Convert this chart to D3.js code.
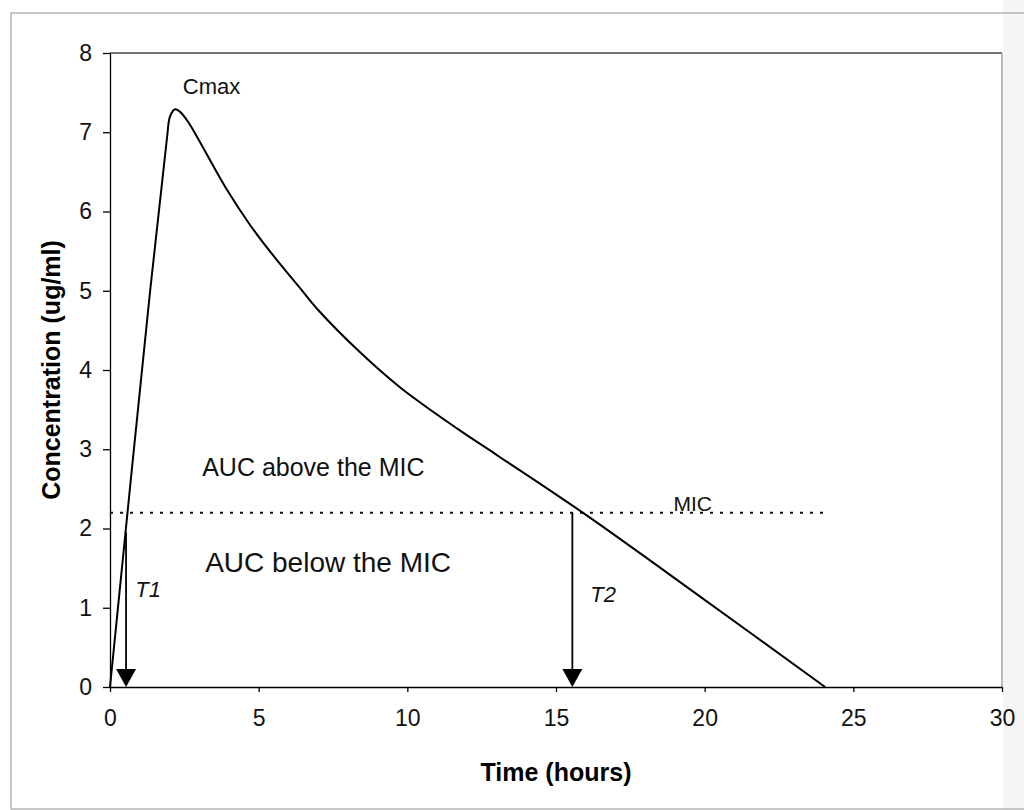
<!DOCTYPE html>
<html>
<head>
<meta charset="utf-8">
<script src="https://cdn.jsdelivr.net/npm/d3@7/dist/d3.min.js"></script>
<style>
  body { margin: 0; background: #fff; }
  svg { display: block; font-family: "Liberation Sans", Arial, sans-serif; }
  .axis path, .axis line { stroke: #000; stroke-width: 1.3; }
  .axis text { fill: #111; }
</style>
</head>
<body>
<div id="chart"></div>
<script>
// concentration-time curve
const timeHours = [0, 1.35, 1.92, 2.02, 2.19, 2.35, 2.63, 2.93, 3.94, 4.71, 5.5, 6.4, 6.97, 8.42, 9.76, 11.68, 13, 15.9, 20, 24.05];
const concentration = [0, 5.0, 6.94, 7.2, 7.29, 7.26, 7.13, 6.94, 6.27, 5.83, 5.44, 5.03, 4.77, 4.22, 3.78, 3.26, 2.93, 2.2, 1.1, 0];
const xTicks = [0, 5, 10, 15, 20, 25, 30];
const yTicks = [0, 1, 2, 3, 4, 5, 6, 7, 8];
const micValue = 2.2;
const micRange = [0, 24.05];
const arrowNames = ["T1", "T2"];
const arrowTimes = [0.54, 15.55];
const arrowTops = [1.95, 2.2];

const W = 1024, H = 810;
const margin = { left: 110, right: 22, top: 53, bottom: 123 };
const width = W - margin.left - margin.right;
const height = H - margin.top - margin.bottom;

const svg = d3.select("#chart").append("svg")
  .attr("width", W)
  .attr("height", H);

// page edge + outer border (scanned figure)
svg.append("rect")
  .attr("x", 1003).attr("y", 0).attr("width", 21).attr("height", H)
  .attr("fill", "#f5f5f5");
svg.append("rect")
  .attr("x", 11).attr("y", 13).attr("width", 1030).attr("height", 796)
  .attr("fill", "none").attr("stroke", "#b5b5b5").attr("stroke-width", 1.5);

const g = svg.append("g")
  .attr("transform", "translate(" + margin.left + "," + margin.top + ")");

const x = d3.scaleLinear().domain([0, 30]).range([0, width]);
const y = d3.scaleLinear().domain([0, 8]).range([height, 0]);

// plot frame top / right
g.append("line")
  .attr("x1", 0).attr("x2", width).attr("y1", 0).attr("y2", 0)
  .attr("stroke", "#444").attr("stroke-width", 1.3);
g.append("line")
  .attr("x1", width).attr("x2", width).attr("y1", 0).attr("y2", height)
  .attr("stroke", "#999").attr("stroke-width", 1.3);

// axes
let yAxis = d3.axisLeft(y).tickValues(yTicks).tickSize(7).tickPadding(11).tickSizeOuter(0);
let xAxis = d3.axisBottom(x).tickValues(xTicks).tickSize(5).tickPadding(18).tickSizeOuter(0);

g.append("g")
  .attr("class", "y axis")
  .call(yAxis)
  .selectAll("text")
  .style("font-size", "23px");

g.append("g")
  .attr("class", "x axis")
  .attr("transform", "translate(0," + height + ")")
  .call(xAxis)
  .selectAll("text")
  .style("font-size", "23px");

// axis titles
g.append("text")
  .attr("x", width / 2)
  .attr("y", height + 94)
  .attr("text-anchor", "middle")
  .style("font-size", "25px")
  .style("font-weight", "bold")
  .text("Time (hours)");

g.append("text")
  .attr("transform", "translate(-50," + (height / 2) + ") rotate(-90)")
  .attr("text-anchor", "middle")
  .style("font-size", "25px")
  .style("font-weight", "bold")
  .text("Concentration (ug/ml)");

// MIC dotted line
g.append("line")
  .attr("x1", x(micRange[0])).attr("x2", x(micRange[1]))
  .attr("y1", y(micValue)).attr("y2", y(micValue))
  .attr("stroke", "#111").attr("stroke-width", 2)
  .attr("stroke-dasharray", "3,7");

// curve
let curve = timeHours.map((t, i) => ({ t: t, c: concentration[i] }));
let line = d3.line()
  .curve(d3.curveCatmullRom.alpha(0.5))
  .x(d => x(d.t))
  .y(d => y(d.c));
g.append("path")
  .datum(curve)
  .attr("fill", "none")
  .attr("stroke", "#000")
  .attr("stroke-width", 2)
  .attr("stroke-linejoin", "round")
  .attr("d", line);

// T1 / T2 arrows
arrowTimes.forEach((t, i) => {
  let ax = x(t);
  g.append("line")
    .attr("x1", ax).attr("x2", ax)
    .attr("y1", y(arrowTops[i])).attr("y2", y(0) - 15)
    .attr("stroke", "#000").attr("stroke-width", 1.8);
  g.append("path")
    .attr("d", "M" + (ax - 10) + "," + (y(0) - 18) + "L" + (ax + 10) + "," + (y(0) - 18) + "L" + ax + "," + y(0) + "Z")
    .attr("fill", "#000");
});

// labels
let labels = [
  { text: "Cmax", t: 2.45, c: 7.48, size: 22, style: "normal" },
  { text: "AUC above the MIC", t: 3.1, c: 2.66, size: 25, style: "normal" },
  { text: "AUC below the MIC", t: 3.2, c: 1.45, size: 28, style: "normal" },
  { text: "MIC", t: 18.95, c: 2.22, size: 21, style: "normal" },
  { text: arrowNames[0], t: 0.85, c: 1.14, size: 22, style: "italic" },
  { text: arrowNames[1], t: 16.15, c: 1.07, size: 22, style: "italic" }
];
g.selectAll(".label")
  .data(labels)
  .enter().append("text")
  .attr("class", "label")
  .attr("x", d => x(d.t))
  .attr("y", d => y(d.c))
  .style("font-size", d => d.size + "px")
  .style("font-style", d => d.style)
  .attr("fill", "#111")
  .text(d => d.text);
</script>
</body>
</html>
